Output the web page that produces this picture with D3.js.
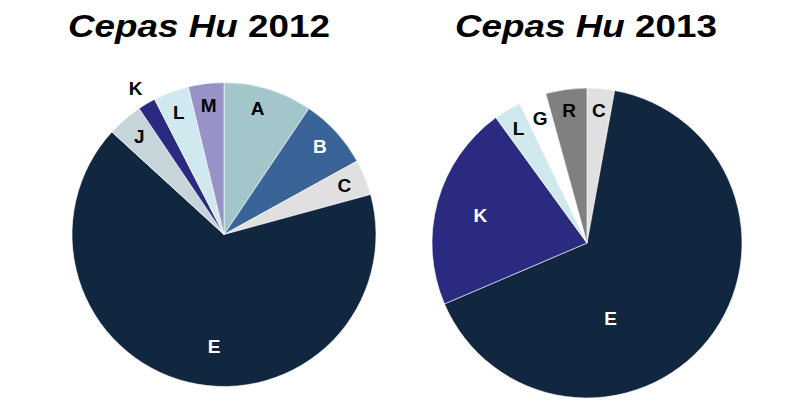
<!DOCTYPE html>
<html>
<head>
<meta charset="utf-8">
<script src="https://cdn.jsdelivr.net/npm/d3@7/dist/d3.min.js"></script>
<style>
  html, body { margin: 0; padding: 0; background: #fff; }
  svg { display: block; }
  text { font-family: "Liberation Sans", Arial, Helvetica, sans-serif; font-weight: bold; }
</style>
</head>
<body>
<svg id="chart" width="804" height="401"></svg>
<script>
// ---- data ----
const titles2012 = ["Cepas Hu", "2012"];
const categories2012 = ["A", "B", "C", "E", "J", "K", "L", "M"];
const values2012 = [5, 4, 2, 35, 2, 1, 2, 2];

const titles2013 = ["Cepas Hu", "2013"];
const categories2013 = ["C", "E", "K", "L", "G", "R"];
const values2013 = [2, 46, 15, 2, 2, 3];

// ---- styles ----
const colors = {
  A: "#a3c6ca", B: "#3a6497", C: "#e0e0e0", E: "#11263f", J: "#c6d5d9",
  K: "#2a2a80", L: "#cfe9ef", M: "#9893c6", G: "#ffffff", R: "#808080"
};
const whiteText = new Set(["B", "E", "K"]);

const svg = d3.select("#chart");

function drawPie(cfg) {
  const data = cfg.categories.map((c, i) => ({ cat: c, value: cfg.values[i] }));
  const pie = d3.pie().sort(null).value(d => d.value);
  const arcs = pie(data);
  const arc = d3.arc().innerRadius(0).outerRadius(cfg.r);
  const g = svg.append("g").attr("transform", `translate(${cfg.cx},${cfg.cy})`);

  g.selectAll("path").data(arcs).enter().append("path")
    .attr("d", arc)
    .attr("fill", d => colors[d.data.cat])
    .attr("stroke", "#ffffff")
    .attr("stroke-width", 0.6);

  g.selectAll("text.lbl").data(arcs).enter().append("text")
    .attr("class", "lbl")
    .attr("text-anchor", "middle")
    .attr("dominant-baseline", "central")
    .attr("font-size", 19)
    .attr("fill", d => whiteText.has(d.data.cat) && !(cfg.outside || {})[d.data.cat] ? "#fff" : "#000")
    .attr("transform", d => {
      const o = (cfg.labelOverride || {})[d.data.cat] || {};
      const rr = (o.r !== undefined ? o.r : cfg.labelR) * cfg.r;
      const a = (d.startAngle + d.endAngle) / 2 + (o.da || 0) * Math.PI / 180;
      return `translate(${rr * Math.sin(a)},${-rr * Math.cos(a)})`;
    })
    .text(d => d.data.cat);

  const t = svg.append("text")
    .attr("font-size", 32)
    .attr("text-anchor", "start")
    .attr("y", 37);
  t.append("tspan").attr("font-style", "italic").text(cfg.title[0] + " ");
  t.append("tspan").text(cfg.title[1]);
  const w = t.node().getComputedTextLength();
  const s = cfg.titleW / w;
  t.attr("transform", `translate(${cfg.titleCx - cfg.titleW / 2},0) scale(${s},1)`);
}

drawPie({
  categories: categories2012, values: values2012,
  cx: 224, cy: 234.5, r: 152, labelR: 0.855,
  labelOverride: { E: { r: 0.74, da: -8.5 }, K: { r: 1.12, da: -0.7 }, A: { da: -2 } },
  outside: { K: true },
  title: titles2012, titleCx: 199, titleW: 262
});

drawPie({
  categories: categories2013, values: values2013,
  cx: 587, cy: 243, r: 155, labelR: 0.86,
  labelOverride: { E: { r: 0.51, da: 34 }, K: { r: 0.71, da: -1 } },
  title: titles2013, titleCx: 586, titleW: 262
});
</script>
</body>
</html>
